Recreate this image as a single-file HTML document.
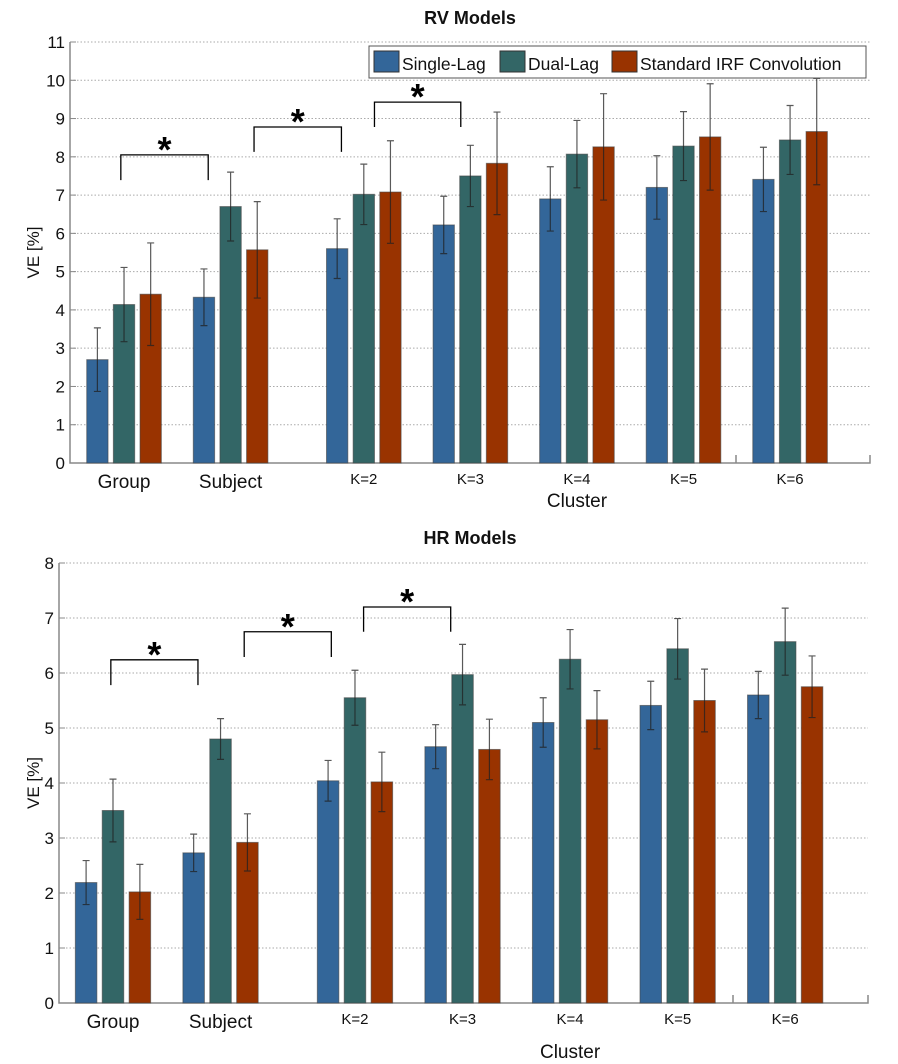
<!DOCTYPE html>
<html><head><meta charset="utf-8">
<style>
html,body{margin:0;padding:0;background:#fff;}
svg{display:block;font-family:"Liberation Sans",Arial,sans-serif;}
</style></head>
<body>
<svg id="chart" width="898" height="1064" viewBox="0 0 898 1064" xmlns="http://www.w3.org/2000/svg"></svg>
<script>
const categories = ["Group","Subject","K=2","K=3","K=4","K=5","K=6"];
const catPos = [1,2,3.25,4.25,5.25,6.25,7.25];
const seriesNames = ["Single-Lag","Dual-Lag","Standard IRF Convolution"];
const rvSingle = [2.7,4.33,5.6,6.22,6.9,7.2,7.41];
const rvDual = [4.14,6.7,7.02,7.5,8.07,8.28,8.44];
const rvStd = [4.41,5.57,7.08,7.83,8.26,8.52,8.66];
const rvSingleErr = [0.83,0.74,0.78,0.75,0.84,0.83,0.84];
const rvDualErr = [0.97,0.9,0.79,0.8,0.88,0.9,0.9];
const rvStdErr = [1.34,1.26,1.34,1.34,1.39,1.39,1.39];
const hrSingle = [2.19,2.73,4.04,4.66,5.1,5.41,5.6];
const hrDual = [3.5,4.8,5.55,5.97,6.25,6.44,6.57];
const hrStd = [2.02,2.92,4.02,4.61,5.15,5.5,5.75];
const hrSingleErr = [0.4,0.34,0.37,0.4,0.45,0.44,0.43];
const hrDualErr = [0.57,0.37,0.5,0.55,0.54,0.55,0.61];
const hrStdErr = [0.5,0.52,0.54,0.55,0.53,0.57,0.56];
const rvTicks = [0,1,2,3,4,5,6,7,8,9,10,11];
const hrTicks = [0,1,2,3,4,5,6,7,8];
const rvBrackets = [[0.97,1.79,8.05,7.39],[2.22,3.04,8.78,8.13],[3.35,4.16,9.43,8.78]];
const hrBrackets = [[0.98,1.79,6.24,5.78],[2.22,3.03,6.75,6.29],[3.33,4.14,7.2,6.75]];
const colors = ["#336699","#336666","#993300"];

const NS="http://www.w3.org/2000/svg";
const svg=document.getElementById('chart');
function mk(tag,attrs,parent,text){const e=document.createElementNS(NS,tag);for(const k in attrs)e.setAttribute(k,attrs[k]);if(text!==undefined)e.textContent=text;(parent||svg).appendChild(e);return e;}

function drawPanel(cfg){
  const g=mk('g',{});
  
  
  const x=v=>cfg.xL+(v-cfg.d0)/(cfg.d1-cfg.d0)*(cfg.xR-cfg.xL);
  const y=v=>cfg.y0+(v-0)/(cfg.ymax)*(cfg.yTop-cfg.y0);
  const unit=(cfg.xR-cfg.xL)/(cfg.d1-cfg.d0);
  cfg.ticks.forEach(t=>{
    if(t>0){const gl=mk('line',{x1:cfg.xL,x2:cfg.xR,y1:y(t),y2:y(t),stroke:'#aaa','stroke-width':1,'stroke-dasharray':'1.5,2'},g);
      }
    mk('line',{x1:cfg.xL,x2:cfg.xL+6,y1:y(t),y2:y(t),stroke:'#888','stroke-width':1},g);
    const tl=mk('text',{x:cfg.xL-5,y:y(t)+6,'text-anchor':'end','font-size':17,fill:'#111'},g,String(t));
    
  });
  const ax=mk('path',{d:`M${cfg.xL},${y(cfg.ymax)}V${cfg.y0}H${cfg.xR}V${cfg.y0-8}M${cfg.xMid},${cfg.y0}V${cfg.y0-8}`,fill:'none',stroke:'#888','stroke-width':1.5},g);
  
  const series=[cfg.s0,cfg.s1,cfg.s2], errs=[cfg.e0,cfg.e1,cfg.e2];
  const off=[-0.25,0,0.25], bw=0.2*unit;
  series.forEach((arr,si)=>{
    arr.forEach((v,i)=>{
      const cx=x(catPos[i]+off[si]);
      const r=mk('rect',{x:cx-bw/2,y:y(v),width:bw,height:cfg.y0-y(v),fill:colors[si],stroke:'#444','stroke-opacity':0.6,'stroke-width':1},g);
      
      
    });
  });
  series.forEach((arr,si)=>{
    arr.forEach((v,i)=>{
      const cx=x(catPos[i]+off[si]), e=errs[si][i];
      const eb=mk('path',{d:`M${cx},${y(v-e)}V${y(v+e)}M${cx-3.5},${y(v-e)}H${cx+3.5}M${cx-3.5},${y(v+e)}H${cx+3.5}`,stroke:'#222','stroke-opacity':0.75,'stroke-width':1.2,fill:'none'},g);
      
    });
  });
  cfg.brackets.forEach(b=>{
    const p=mk('path',{d:`M${x(b[0])},${y(b[3])}V${y(b[2])}H${x(b[1])}V${y(b[3])}`,fill:'none',stroke:'#000','stroke-width':1.3},g);
    
    const s=mk('text',{x:(x(b[0])+x(b[1]))/2,y:y(b[2])+7,'text-anchor':'middle','font-size':36,'font-weight':'bold',fill:'#000'},g,'*');
    
  });
  categories.forEach((c,i)=>{
    const big=i<2;
    const t=mk('text',{x:x(catPos[i]),y:cfg.y0+(big?25:21),'text-anchor':'middle','font-size':big?19:15,fill:'#111'},g,c);
    
  });
  const xt=mk('text',{x:x(catPos[4]),y:cfg.y0+cfg.clusterDy,'text-anchor':'middle','font-size':19,fill:'#111'},g,'Cluster');
  
  const yl=(cfg.y0+y(cfg.ymax))/2;
  const yt=mk('text',{x:cfg.yLabelX,y:yl,'text-anchor':'middle','font-size':17,fill:'#111',transform:`rotate(-90 ${cfg.yLabelX} ${yl})`},g,'VE [%]');
  
  const ti=mk('text',{x:cfg.titleX,y:cfg.titleY,'text-anchor':'middle','font-size':18,'font-weight':'bold',fill:'#111'},g,cfg.title);
  
  return g;
}

drawPanel({name:'rv-models-chart',title:'RV Models',titleX:470,titleY:24,xL:70,xR:870,xMid:736,d0:0.493,d1:8.0,y0:463,yTop:42,ymax:11,
  ticks:rvTicks,s0:rvSingle,s1:rvDual,s2:rvStd,e0:rvSingleErr,e1:rvDualErr,e2:rvStdErr,brackets:rvBrackets,clusterDy:44,yLabelX:39});
drawPanel({name:'hr-models-chart',title:'HR Models',titleX:470,titleY:544,xL:59,xR:868,xMid:733,d0:0.498,d1:8.02,y0:1003,yTop:563,ymax:8,
  ticks:hrTicks,s0:hrSingle,s1:hrDual,s2:hrStd,e0:hrSingleErr,e1:hrDualErr,e2:hrStdErr,brackets:hrBrackets,clusterDy:55,yLabelX:39});

const lg=mk('g',{});


mk('rect',{x:369,y:46,width:497,height:32,fill:'#fff',stroke:'#555','stroke-width':1},lg);
const lx=[374,500,612];
seriesNames.forEach((n,i)=>{
  const it=mk('g',{},lg);
  
  
  mk('rect',{x:lx[i],y:51,width:25,height:21,fill:colors[i],stroke:'#333','stroke-width':1},it);
  mk('text',{x:lx[i]+28,y:70,'font-size':17.5,fill:'#111'},it,n);
});
</script>
</body></html>
